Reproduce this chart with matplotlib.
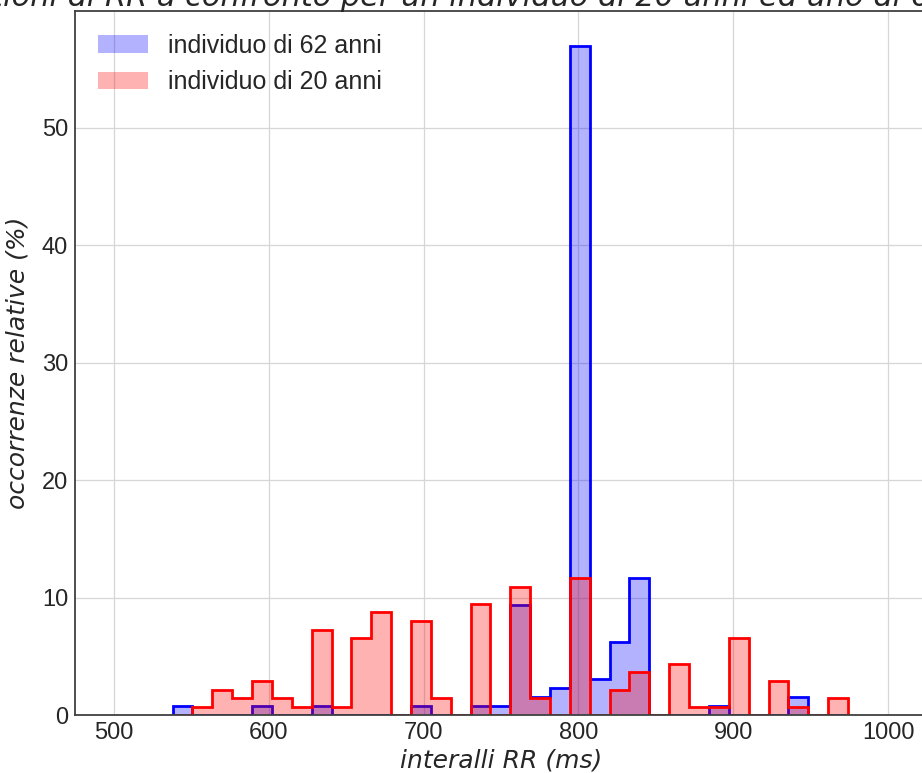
import numpy as np
import matplotlib
matplotlib.use("Agg")
import matplotlib.pyplot as plt

# ---- data (percent of occurrences per RR bin) ----
bin_start = 538.0
bin_end = 974.0
n_bins = 34
old_pct = [0.78, 0, 0, 0, 0.78, 0, 0, 0.78, 0, 0,
           0, 0, 0.78, 0, 0, 0.78, 0.78, 9.4, 1.56, 2.34,
           57.0, 3.12, 6.25, 11.72, 0, 0, 0, 0.78, 0, 0,
           0, 1.56, 0, 0]
young_pct = [0, 0.73, 2.19, 1.46, 2.92, 1.46, 0.73, 7.30, 0.73, 6.57,
             8.76, 0, 8.03, 1.46, 0, 9.49, 0, 10.95, 1.46, 0,
             11.68, 0, 2.19, 3.65, 0, 4.38, 0.73, 0.73, 6.57, 0,
             2.92, 0.73, 0, 1.46]
label_old = "individuo di 62 anni"
label_young = "individuo di 20 anni"
title = "Distribuzioni di RR a confronto per un individuo di 20 anni ed uno di 62 anni"
xlabel = "interalli RR (ms)"
ylabel = "occorrenze relative (%)"
xticks = [500, 600, 700, 800, 900, 1000]
yticks = [0, 10, 20, 30, 40, 50]

edges = np.linspace(bin_start, bin_end, n_bins + 1)
centers = 0.5 * (edges[:-1] + edges[1:])

W, H = 922, 773
fig = plt.figure(figsize=(W / 100, H / 100), dpi=100)
ax = fig.add_axes([75 / W, 1 - 715.3 / H, (927 - 75) / W, (715.3 - 11) / H])

ax.hist(centers, bins=edges, weights=old_pct, histtype="stepfilled",
        color="blue", alpha=0.3, linewidth=0, label=label_old, zorder=2)
ax.hist(centers, bins=edges, weights=old_pct, histtype="step",
        color="blue", linewidth=2, zorder=3)
ax.hist(centers, bins=edges, weights=young_pct, histtype="stepfilled",
        color="red", alpha=0.3, linewidth=0, label=label_young, zorder=4)
ax.hist(centers, bins=edges, weights=young_pct, histtype="step",
        color="red", linewidth=2, zorder=5)

ax.set_xlim(475, 1025)
ax.set_ylim(0, 59.95)
ax.set_xticks(xticks)
ax.set_yticks(yticks)
ax.grid(True, color="0.84", linewidth=0.9, zorder=0)
ax.set_axisbelow(True)
for s in ["left", "bottom", "top", "right"]:
    ax.spines[s].set_color("0.25")
    ax.spines[s].set_linewidth(1.3)
    ax.spines[s].set_zorder(6)
ax.tick_params(length=0, pad=5, labelsize=17, colors="0.15")
for lab in ax.get_xticklabels() + ax.get_yticklabels():
    lab.set_family("Liberation Sans")

ax.set_xlabel(xlabel, fontsize=18, style="italic", family="DejaVu Sans",
              color="0.15", labelpad=3)
ax.set_ylabel(ylabel, fontsize=18, style="italic", family="DejaVu Sans",
              color="0.15", labelpad=9)

leg = ax.legend(loc="upper left", frameon=False,
                prop={"family": "Liberation Sans", "size": 18})
for t in leg.get_texts():
    t.set_color("0.15")

fig.text(-132 / W, 1 - 6 / H, title, ha="left", va="baseline", fontsize=21.9,
         style="italic", family="DejaVu Sans", color="0.15")

fig.savefig("out.png", dpi=100)
